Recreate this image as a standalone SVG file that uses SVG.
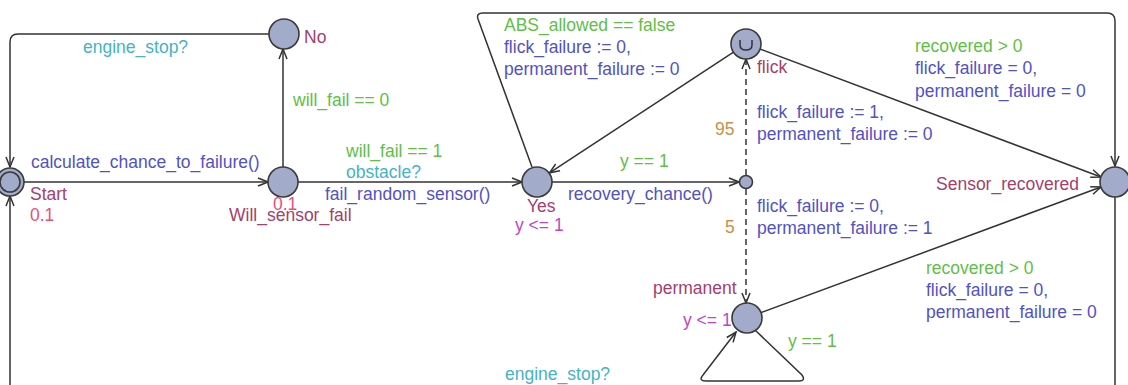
<svg xmlns="http://www.w3.org/2000/svg" width="1128" height="385" viewBox="0 0 1128 385">
<style>
text{font-family:"Liberation Sans",Arial,sans-serif;font-size:17.5px}
.nm{fill:#a4406c}
.pr{fill:#e8507a}
.gd{fill:#5fbf46}
.up{fill:#5252c4}
.sy{fill:#45b3c4}
.iv{fill:#c046c8}
.pb{fill:#c8904a}
.st{fill:#a3abcb;stroke:#3a3a3a;stroke-width:1.6}
.ed{fill:none;stroke:#333;stroke-width:1.5;marker-end:url(#ah)}
.ds{stroke-dasharray:6 4}
</style>
<defs>
<marker id="ah" viewBox="0 0 12 10" refX="11" refY="5" markerWidth="12" markerHeight="10" markerUnits="userSpaceOnUse" orient="auto">
<path d="M1,1 L11,5 L1,9" fill="none" stroke="#333" stroke-width="1.5"/>
</marker>
</defs>
<rect width="1128" height="385" fill="#fff"/>
<g id="connectors">
<path class="ed" d="M269 34 L18 34 Q10 34 10 42 L10 167"/>
<path class="ed" d="M24 182 L268 182"/>
<path class="ed" d="M283 167 L283 49"/>
<path class="ed" d="M298 182 L522 182"/>
<path class="ed" d="M552 182 L739 182"/>
<path class="ed ds" d="M746 175 L746 59"/>
<path class="ed ds" d="M746 189 L746 303"/>
<path class="ed" d="M733.5 52.2 L549.5 172.8"/>
<path class="ed" d="M760 49 L1101 177"/>
<path class="ed" d="M760 313 L1101 187"/>
<path class="ed" d="M532 167 L478 19 Q476 13 483 13 L1107 13 Q1115 13 1115 21 L1115 166"/>
<path class="ed" d="M1115 197 L1115 395 L10 395 L10 196"/>
<path class="ed" d="M755 330 L802 375 Q806 381 799 381 L706 381 Q698 381 703 375 L736 332"/>
<text class="sy" x="83" y="53">engine_stop?</text>
<text class="up" x="31" y="168">calculate_chance_to_failure()</text>
<text class="gd" x="293" y="106">will_fail == 0</text>
<text class="gd" x="346" y="157">will_fail == 1</text>
<text class="sy" x="346" y="178">obstacle?</text>
<text class="up" x="325" y="200">fail_random_sensor()</text>
<text class="gd" x="620" y="167">y == 1</text>
<text class="up" x="568" y="200">recovery_chance()</text>
<text class="gd" x="504" y="31">ABS_allowed == false</text>
<text class="up" x="504" y="53">flick_failure := 0,</text>
<text class="up" x="504" y="75">permanent_failure := 0</text>
<text class="pb" x="715" y="135">95</text>
<text class="up" x="757" y="118">flick_failure := 1,</text>
<text class="up" x="757" y="140">permanent_failure := 0</text>
<text class="pb" x="725" y="233">5</text>
<text class="up" x="757" y="212">flick_failure := 0,</text>
<text class="up" x="757" y="234">permanent_failure := 1</text>
<text class="gd" x="915" y="52">recovered &gt; 0</text>
<text class="up" x="915" y="74">flick_failure = 0,</text>
<text class="up" x="915" y="97">permanent_failure = 0</text>
<text class="gd" x="926" y="274">recovered &gt; 0</text>
<text class="up" x="926" y="296">flick_failure = 0,</text>
<text class="up" x="926" y="318">permanent_failure = 0</text>
<text class="gd" x="788" y="347">y == 1</text>
<text class="sy" x="505" y="380">engine_stop?</text>
</g>
<g id="Start">
<circle class="st" cx="10" cy="182" r="14"/>
<circle class="st" cx="10" cy="182" r="10"/>
<text class="nm" x="30" y="200">Start</text>
<text class="pr" x="30" y="221">0.1</text>
</g>
<g id="No">
<circle class="st" cx="284" cy="34" r="15"/>
<text class="nm" x="304" y="43">No</text>
</g>
<g id="Will_sensor_fail">
<circle class="st" cx="283" cy="182" r="15"/>
<text class="pr" x="273" y="210">0.1</text>
<text class="nm" x="229" y="221">Will_sensor_fail</text>
</g>
<g id="Yes">
<circle class="st" cx="537" cy="182" r="15"/>
<text class="nm" x="527" y="212">Yes</text>
<text class="iv" x="515" y="231">y &lt;= 1</text>
</g>
<g id="branch">
<circle class="st" cx="746" cy="182" r="6.5"/>
</g>
<g id="flick">
<circle class="st" cx="746" cy="44" r="15"/>
<path d="M740 40 L740 45 Q740 50 746 50 Q752 50 752 45 L752 40" fill="none" stroke="#333" stroke-width="1.5"/>
<text class="nm" x="757" y="73">flick</text>
</g>
<g id="Sensor_recovered">
<circle class="st" cx="1115" cy="182" r="15"/>
<text class="nm" x="936" y="190">Sensor_recovered</text>
</g>
<g id="permanent">
<circle class="st" cx="747" cy="318" r="15"/>
<text class="nm" x="653" y="294">permanent</text>
<text class="iv" x="683" y="326">y &lt;= 1</text>
</g>
</svg>
